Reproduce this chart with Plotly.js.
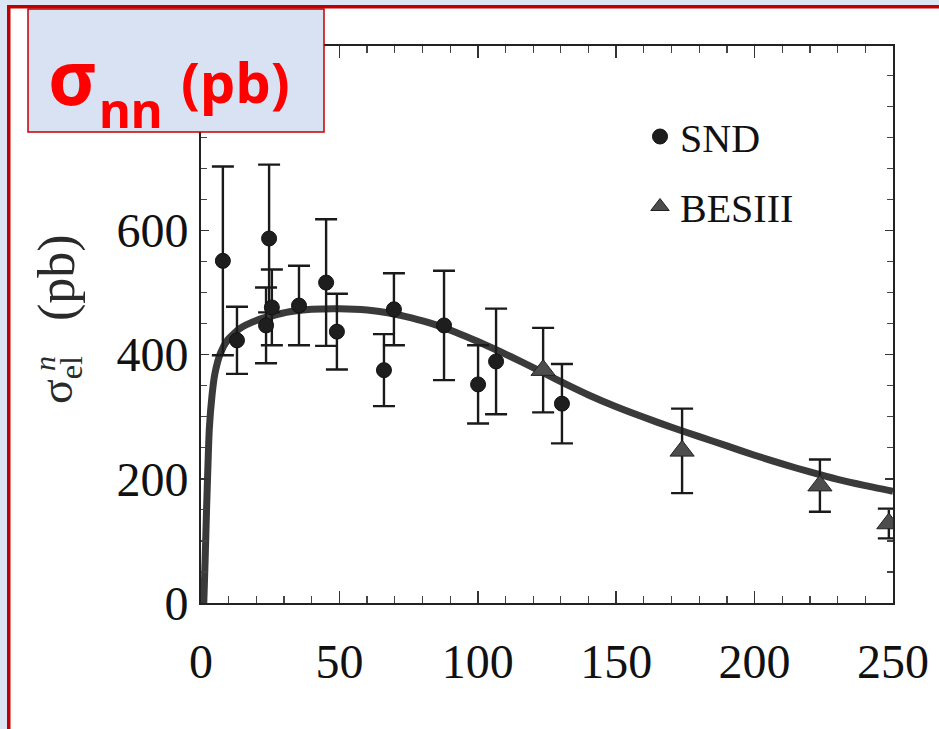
<!DOCTYPE html>
<html>
<head>
<meta charset="utf-8">
<script src="https://cdn.plot.ly/plotly-3.0.1.min.js"></script>
<style>
  html, body { margin: 0; padding: 0; background: #ffffff; }
  #chart { width: 939px; height: 729px; }
</style>
</head>
<body>
<div id="chart"></div>
<script>
// ---- data ----
const sndX    = [7.9, 13.0, 24.6, 23.5, 25.6, 35.4, 45.2, 49.1, 66.1, 69.7, 87.8, 100.1, 106.6, 130.4];
const sndY    = [551, 423, 587, 447, 476, 479, 516, 437, 375, 473, 447, 352, 389, 321];
const sndErr  = [152, 54, 119, 61, 61, 64, 102, 61, 58, 58, 88, 63, 85, 64];

const besX    = [123.6, 173.8, 223.6, 248.5];
const besY    = [375, 245, 189, 128];
const besErr  = [68, 68, 42, 24];

const fitX = [1, 1.5, 2, 2.5, 3, 4, 5, 7, 9.5, 14, 20, 26, 32, 40, 50, 60, 68, 76, 84, 92, 100, 108, 116, 124, 132, 140, 150, 160, 170, 180, 190, 200, 210, 220, 230, 240, 250];
const fitY = [0, 70, 150, 220, 280, 335, 369, 402, 423, 442, 455, 463, 469, 473, 474, 472, 467, 459, 449, 436, 421, 405, 388, 370, 352, 335, 316, 299, 283, 268, 253, 238, 224, 211, 199, 189, 180];

const xTickVals = [0, 50, 100, 150, 200, 250];
const yTickVals = [0, 200, 400, 600];

// ---- layout geometry (pixels) ----
const W = 939, H = 729;
const L = 201, R = 893, T = 46, B = 603;
const PW = R - L, PH = B - T;
const px = x => (x - L) / PW;
const py = y => (B - y) / PH;

const serif = 'Liberation Serif, DejaVu Serif, serif';
const sans = 'Noto Sans, Open Sans, sans-serif';

const traces = [
  {
    x: fitX, y: fitY, type: 'scatter', mode: 'lines',
    line: {color: '#3a3a3a', width: 7, shape: 'spline', smoothing: 0.6},
    showlegend: false, hoverinfo: 'skip'
  },
  {
    x: sndX, y: sndY, type: 'scatter', mode: 'markers', name: 'SND',
    legendgroup: 'a',
    marker: {symbol: 'circle', size: 15, color: '#1e1e1e', line: {color: '#111', width: 1}},
    error_y: {type: 'data', array: sndErr, visible: true, color: '#1a1a1a', thickness: 2.4, width: 11}
  },
  {
    x: besX, y: besY, type: 'scatter', mode: 'markers', name: 'BESIII',
    legendgroup: 'b',
    marker: {symbol: 'triangle-up', size: 21, color: '#4d4d4d', line: {color: '#222', width: 1}},
    error_y: {type: 'data', array: besErr, visible: true, color: '#1a1a1a', thickness: 2.4, width: 11}
  }
];

const shapes = [
  // light blue slide background bands
  {type: 'rect', xref: 'paper', yref: 'paper', x0: px(0), x1: px(W), y0: py(0), y1: py(5), fillcolor: '#dce5f3', line: {width: 0}, layer: 'above'},
  {type: 'rect', xref: 'paper', yref: 'paper', x0: px(0), x1: px(7), y0: py(0), y1: py(H), fillcolor: '#dce5f3', line: {width: 0}, layer: 'above'},
  // red frame (top and left)
  {type: 'rect', xref: 'paper', yref: 'paper', x0: px(7), x1: px(W), y0: py(5), y1: py(8.5), fillcolor: '#c00000', line: {width: 0}, layer: 'above'},
  {type: 'rect', xref: 'paper', yref: 'paper', x0: px(7), x1: px(10.5), y0: py(5), y1: py(H), fillcolor: '#c00000', line: {width: 0}, layer: 'above'},
  // title box
  {type: 'rect', xref: 'paper', yref: 'paper', x0: px(28), x1: px(324), y0: py(9), y1: py(132), fillcolor: '#d9e2f3', line: {color: '#c00000', width: 1.5}, layer: 'above'}
];

const red = '#ff0000';
const ink = '#2a2a2a';
const annotations = [
  {xref: 'paper', yref: 'paper', x: px(47), y: py(76), xanchor: 'left', yanchor: 'middle', showarrow: false,
   text: '<b>σ</b>', font: {family: sans, size: 76, color: red}, borderpad: 0},
  {xref: 'paper', yref: 'paper', x: px(98), y: py(109), xanchor: 'left', yanchor: 'middle', showarrow: false,
   text: '<b>nn</b>', font: {family: sans, size: 49, color: red}, borderpad: 0},
  {xref: 'paper', yref: 'paper', x: px(180), y: py(81), xanchor: 'left', yanchor: 'middle', showarrow: false,
   text: '<b>(pb)</b>', font: {family: sans, size: 56, color: red}, borderpad: 0},
  // y-axis title: sigma^n_el (pb)
  {xref: 'paper', yref: 'paper', x: px(60), y: py(380), xanchor: 'center', yanchor: 'middle', showarrow: false,
   textangle: -90, text: 'σ<sub>el</sub>', font: {family: serif, size: 46, color: ink}, borderpad: 0},
  {xref: 'paper', yref: 'paper', x: px(45), y: py(364), xanchor: 'center', yanchor: 'middle', showarrow: false,
   textangle: -90, text: '<i>n</i>', font: {family: serif, size: 30, color: ink}, borderpad: 0},
  {xref: 'paper', yref: 'paper', x: px(57), y: py(278), xanchor: 'center', yanchor: 'middle', showarrow: false,
   textangle: -90, text: '(pb)', font: {family: serif, size: 52, color: ink}, borderpad: 0}
];

const layout = {
  width: W, height: H,
  margin: {l: L, r: W - R, t: T, b: H - B, pad: 0},
  paper_bgcolor: '#ffffff', plot_bgcolor: '#ffffff',
  showlegend: true,
  legend: {
    x: px(640), y: py(104), xanchor: 'left', yanchor: 'top',
    bgcolor: 'rgba(0,0,0,0)', borderwidth: 0,
    font: {family: serif, size: 40, color: '#111'},
    traceorder: 'grouped', tracegroupgap: 15, itemwidth: 30
  },
  xaxis: {
    range: [0, 250], tickvals: xTickVals, ticktext: xTickVals.map(String),
    ticks: 'inside', ticklen: 12, tickwidth: 1.5, tickcolor: '#333',
    minor: {dtick: 10, tick0: 0, ticks: 'inside', ticklen: 7, tickwidth: 1.2, tickcolor: '#444', showgrid: false},
    showline: true, linecolor: '#222', linewidth: 2, mirror: 'ticks',
    showgrid: false, zeroline: false,
    tickfont: {family: serif, size: 48, color: '#111'},
    ticklabelstandoff: 15
  },
  yaxis: {
    range: [0, 897], tickvals: yTickVals, ticktext: yTickVals.map(String),
    ticks: 'inside', ticklen: 8, tickwidth: 1.5, tickcolor: '#333',
    minor: {dtick: 50, tick0: 0, ticks: 'inside', ticklen: 6, tickwidth: 1.2, tickcolor: '#444', showgrid: false},
    showline: true, linecolor: '#222', linewidth: 2, mirror: 'ticks',
    showgrid: false, zeroline: false,
    tickfont: {family: serif, size: 48, color: '#111'},
    ticklabelstandoff: 1
  },
  shapes: shapes,
  annotations: annotations
};

Plotly.newPlot('chart', traces, layout, {displayModeBar: false, staticPlot: true});
</script>
</body>
</html>
